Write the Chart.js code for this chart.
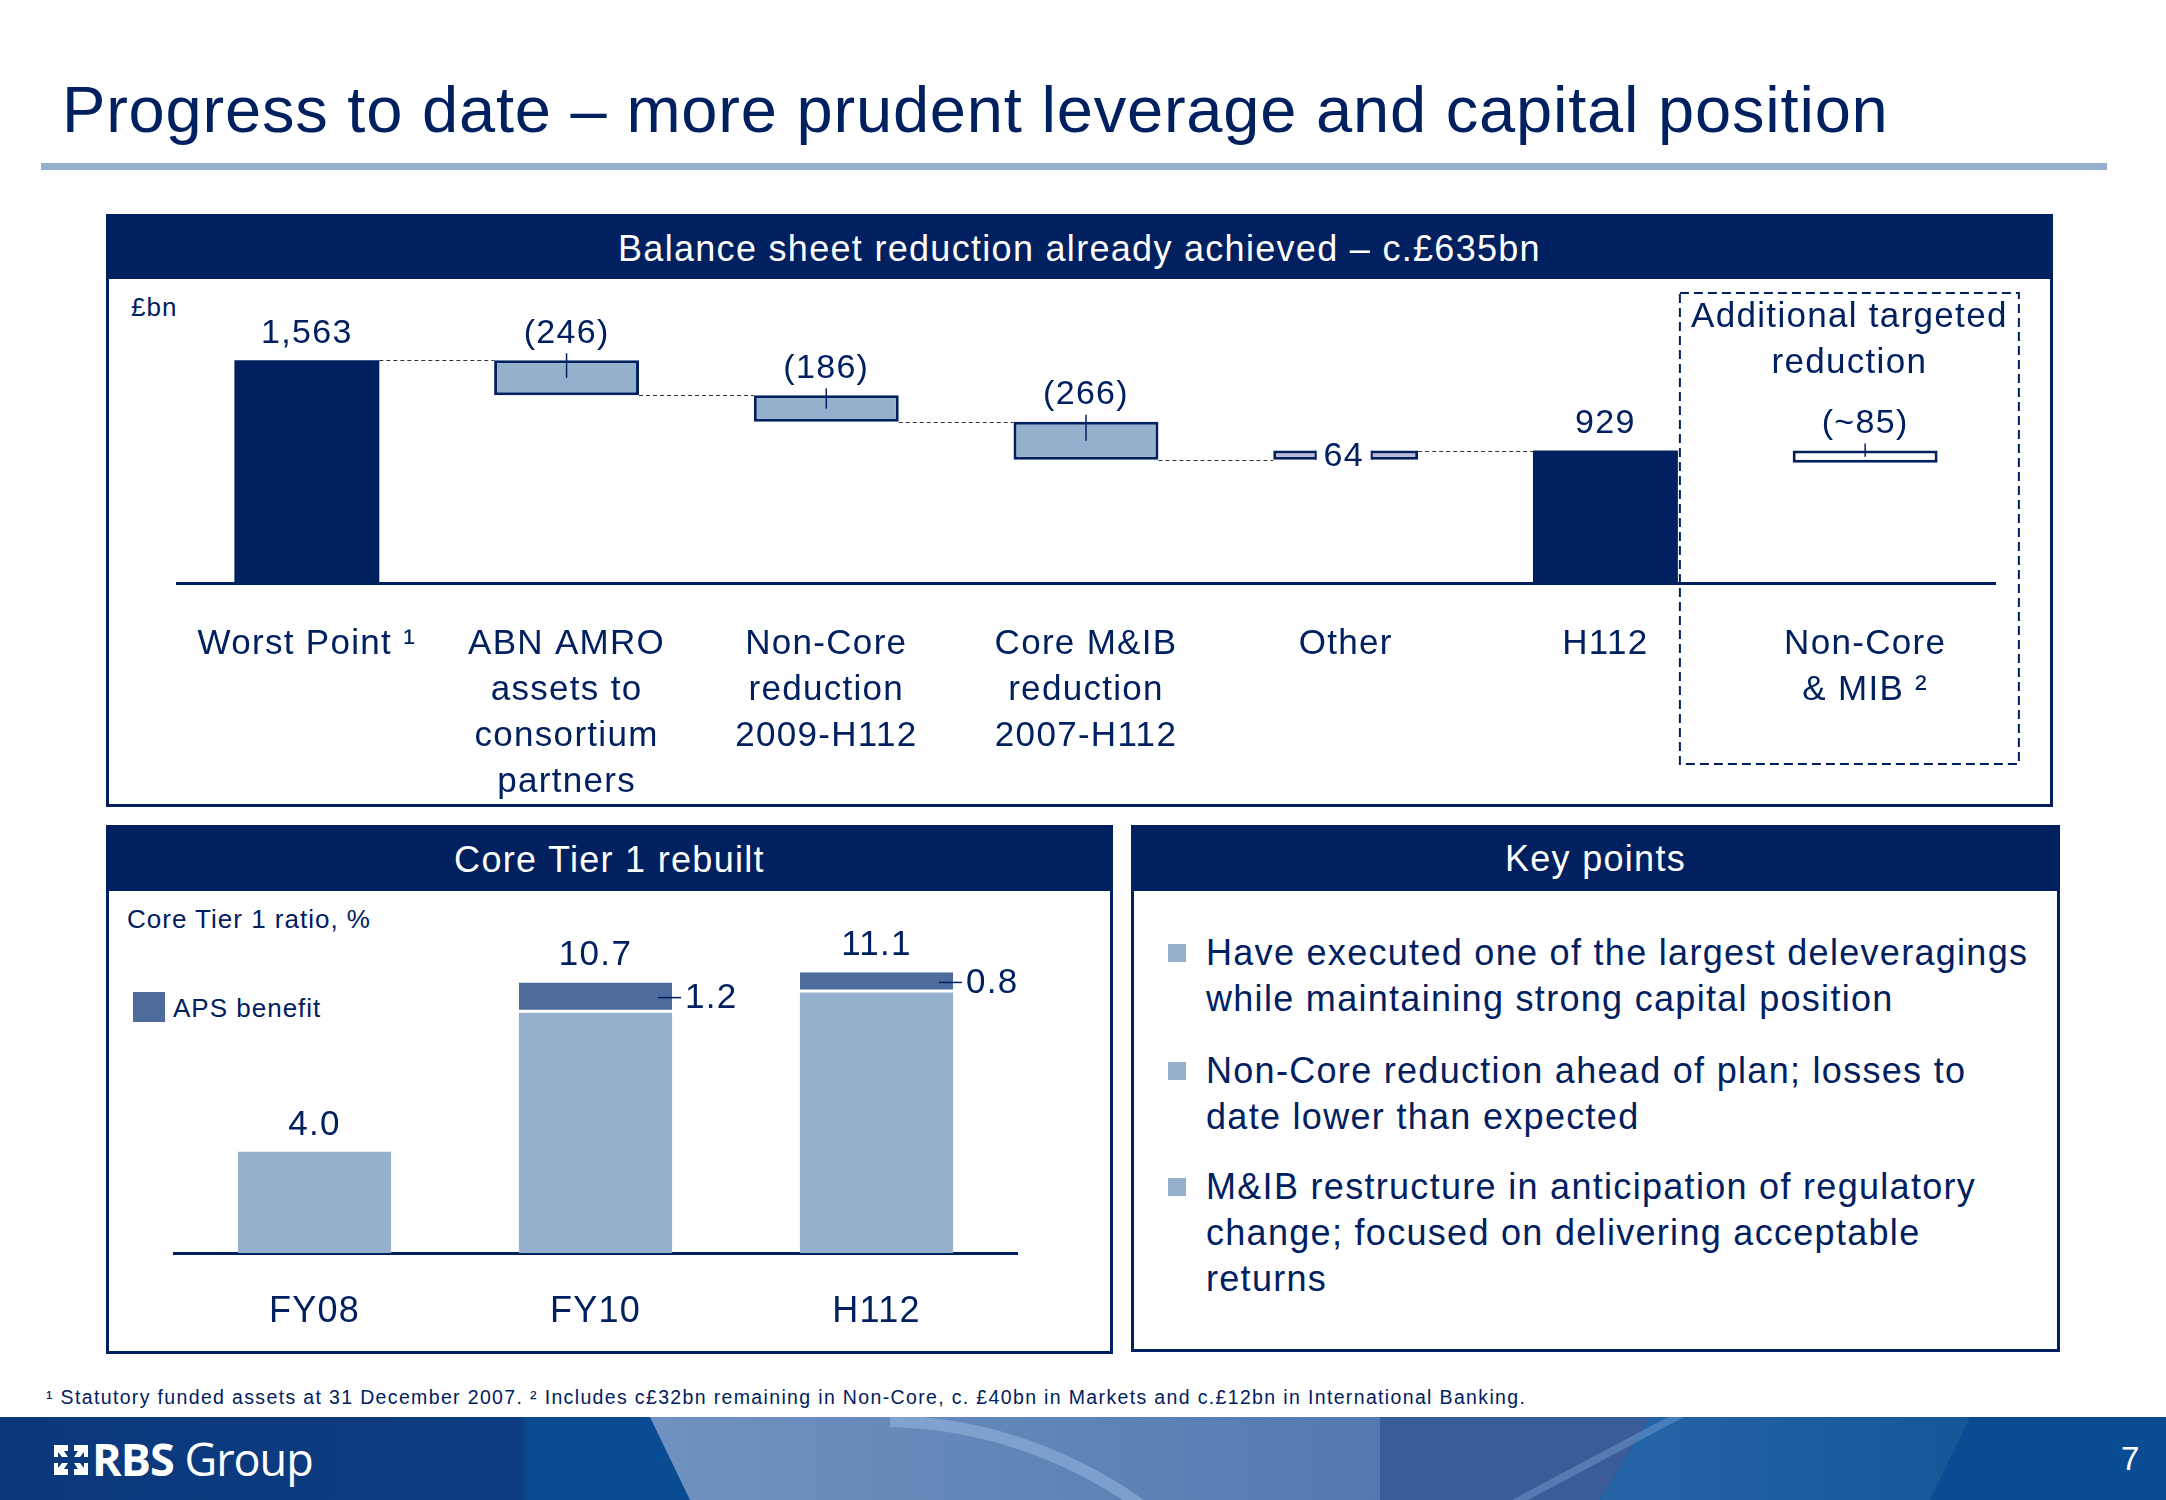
<!DOCTYPE html>
<html>
<head>
<meta charset="utf-8">
<script src="https://cdn.jsdelivr.net/npm/chart.js@4.4.1/dist/chart.umd.min.js"></script>
<style>
  body { margin:0; width:2166px; height:1500px; position:relative; overflow:hidden; background:#fff;
         font-family:"Liberation Sans", Arial, sans-serif; color:#002060; }
  .abs { position:absolute; white-space:nowrap; }
  .panel { position:absolute; box-sizing:border-box; border:3px solid #002060; background:#fff; }
  .hdr { position:absolute; left:0; top:0; right:0; background:#002060; color:#fff; text-align:center;
         font-size:36px; letter-spacing:1.3px; }
  .small { font-size:26px; letter-spacing:1px; line-height:30px; }
  .bullet { position:absolute; left:1168px; width:18px; height:18px; background:#94b0cc; }
  .kp { position:absolute; left:1206px; font-size:36px; letter-spacing:1.3px; line-height:46px; white-space:nowrap; }
  canvas { position:absolute; }
  #footer { position:absolute; left:0; top:1417px; width:2166px; height:83px; overflow:hidden;
    background:linear-gradient(90deg,#0b387b 0,#0c3c81 520px,#0a4c94 530px,#0a4c94 2166px); }
  #footer .fz { position:absolute; left:0; top:0; width:2166px; height:83px; }
</style>
</head>
<body>

<div class="abs" id="title" style="left:62px; top:70px; font-size:65px; line-height:80px; letter-spacing:0.8px;">Progress to date – more prudent leverage and capital position</div>
<div class="abs" style="left:41px; top:163px; width:2066px; height:7px; background:#94b0cc;"></div>

<!-- top panel -->
<div class="panel" style="left:106px; top:214px; width:1947px; height:593px;">
  <div class="hdr" style="height:62px; line-height:64px;">Balance sheet reduction already achieved – c.£635bn</div>
</div>
<div class="abs small" style="left:131px; top:292px;">£bn</div>

<!-- core tier 1 panel -->
<div class="panel" style="left:106px; top:825px; width:1007px; height:529px;">
  <div class="hdr" style="height:63px; line-height:64px;">Core Tier 1 rebuilt</div>
</div>
<div class="abs small" style="left:127px; top:904px;">Core Tier 1 ratio, %</div>
<div class="abs" style="left:133px; top:992px; width:32px; height:30px; background:#4d6b9b;"></div>
<div class="abs small" style="left:173px; top:993px;">APS benefit</div>

<!-- key points panel -->
<div class="panel" style="left:1131px; top:825px; width:929px; height:527px;">
  <div class="hdr" style="height:63px; line-height:62px;">Key points</div>
</div>
<div class="bullet" style="top:944px;"></div>
<div class="kp" style="top:930px;">Have executed one of the largest deleveragings<br>while maintaining strong capital position</div>
<div class="bullet" style="top:1062px;"></div>
<div class="kp" style="top:1048px;">Non-Core reduction ahead of plan; losses to<br>date lower than expected</div>
<div class="bullet" style="top:1178px;"></div>
<div class="kp" style="top:1164px;">M&amp;IB restructure in anticipation of regulatory<br>change; focused on delivering acceptable<br>returns</div>

<div class="abs" style="left:46px; top:1385px; font-size:19.5px; line-height:24px; letter-spacing:1.35px;">¹ Statutory funded assets at 31 December 2007. ² Includes c£32bn remaining in Non-Core, c. £40bn in Markets and c.£12bn in International Banking.</div>

<canvas id="wf" width="1941" height="524" style="left:109px; top:280px;"></canvas>
<canvas id="ct1" width="1001" height="459" style="left:109px; top:892px;"></canvas>

<!-- footer -->
<div id="footer">
  <div class="fz" style="background:linear-gradient(90deg,#7192c0 650px,#5479b0 1380px); clip-path:polygon(650px 0,1380px 0,1380px 83px,690px 83px);"></div>
  <div class="fz" style="background:#3a5c98; clip-path:polygon(1380px 0,1650px 0,1600px 83px,1380px 83px);"></div>
  <div class="fz" style="background:linear-gradient(90deg,#2463a5 1650px,#155799 1960px); clip-path:polygon(1650px 0,1970px 0,1930px 83px,1600px 83px);"></div>
  <div class="fz" style="clip-path:polygon(890px 0,1380px 0,1380px 83px,890px 83px);">
    <div style="position:absolute; left:428px; top:-2px; width:880px; height:880px; border-radius:50%; border:12px solid rgba(160,192,232,0.45);"></div>
  </div>
  <div class="fz" style="background:rgba(140,178,225,0.35); clip-path:polygon(1668px 0,1684px 0,1528px 83px,1512px 83px);"></div>
  <svg style="position:absolute; left:52px; top:26px;" width="38" height="34" viewBox="0 0 38 34">
    <g fill="#fff">
      <polygon points="2,2 16,2 16,8 12,8 16,14 10,14 6,9 6,14 2,14"/>
      <polygon points="36,2 22,2 22,8 26,8 22,14 28,14 32,9 32,14 36,14"/>
      <polygon points="2,32 16,32 16,26 12,26 16,20 10,20 6,25 6,20 2,20"/>
      <polygon points="36,32 22,32 22,26 26,26 22,20 28,20 32,25 32,20 36,20"/>
    </g>
  </svg>
  <div class="abs" style="left:92px; top:16px; font-family:'Open Sans',sans-serif; font-size:45px; line-height:52px; color:#fff; letter-spacing:-1px;"><b>RBS</b> Group</div>
  <div class="abs" style="left:2121px; top:22px; font-size:33px; line-height:40px; color:#fff;">7</div>
</div>

<script>
const NAVY = '#002060';
const LIGHT = '#94b0cc';
const APS_C = '#4d6b9b';
const OTHER_C = '#b9bcd4';
const FONT = '"Liberation Sans", Arial, sans-serif';

// ---- Balance sheet waterfall data (£bn) ----
const WF_LABELS = [
  ['Worst Point ¹'],
  ['ABN AMRO', 'assets to', 'consortium', 'partners'],
  ['Non-Core', 'reduction', '2009-H112'],
  ['Core M&IB', 'reduction', '2007-H112'],
  ['Other'],
  ['H112'],
  ['Non-Core', '& MIB ²']
];
const WF_START = 1563;
const WF_STEPS = [-246, -186, -266, 64];
const WF_END = 929;
const WF_TARGET = -85;
const WF_TEXT = ['1,563', '(246)', '(186)', '(266)', '64', '929', '(~85)'];

// ---- Core Tier 1 data (%) ----
const CT1_LABELS = ['FY08', 'FY10', 'H112'];
const CT1_BASE = [4.0, 9.5, 10.3];
const CT1_APS = [0, 1.2, 0.8];

// build floating bars for waterfall
const wfBars = [[0, WF_START]];
const wfRun = [WF_START];
let run = WF_START;
WF_STEPS.forEach(s => {
  const next = run + s;
  wfBars.push([Math.min(run, next), Math.max(run, next)]);
  run = next;
  wfRun.push(run);
});
wfBars.push([0, WF_END]);
wfBars.push([WF_END + WF_TARGET, WF_END]);

const wfKind = ['total'].concat(WF_STEPS.map(s => s < 0 ? 'down' : 'up'), ['total', 'target']);
const wfFill = wfKind.map(k => k === 'total' ? NAVY : k === 'down' ? LIGHT : k === 'up' ? OTHER_C : '#fff');
const wfBorder = wfKind.map(k => k === 'total' ? 0 : 3);

const wfDecor = {
  id: 'wfDecor',
  beforeDraw(chart) { chart.ctx.letterSpacing = '1.3px'; },
  afterDatasetsDraw(chart) {
    const ctx = chart.ctx, bars = chart.getDatasetMeta(0).data, ys = chart.scales.y;
    ctx.save();
    // dashed connectors
    ctx.strokeStyle = '#333'; ctx.lineWidth = 1; ctx.setLineDash([4, 3]);
    for (let i = 0; i < wfRun.length; i++) {
      const a = bars[i], b = bars[i + 1];
      const lv = Math.round(ys.getPixelForValue(wfRun[i])) + 0.5;
      ctx.beginPath(); ctx.moveTo(a.x + a.width / 2, lv); ctx.lineTo(b.x - b.width / 2, lv); ctx.stroke();
    }
    ctx.setLineDash([]);
    // labels
    ctx.font = '34px ' + FONT; ctx.fillStyle = NAVY; ctx.textAlign = 'center'; ctx.textBaseline = 'middle';
    bars.forEach((b, i) => {
      const top = Math.min(b.y, b.base), bot = Math.max(b.y, b.base), mid = (top + bot) / 2;
      if (wfKind[i] === 'up') {
        ctx.fillStyle = '#fff'; ctx.fillRect(b.x - 30, top - 6, 56, bot - top + 12);
        ctx.fillStyle = NAVY; ctx.fillRect(b.x - 31, top, 2, bot - top); ctx.fillRect(b.x + 25, top, 2, bot - top);
        ctx.fillText(WF_TEXT[i], b.x - 2, mid + 1);
        return;
      }
      ctx.fillText(WF_TEXT[i], b.x, top - 27);
      if (wfKind[i] === 'down' || wfKind[i] === 'target') {
        ctx.strokeStyle = NAVY; ctx.lineWidth = 1.5;
        ctx.beginPath(); ctx.moveTo(b.x, top - 7); ctx.lineTo(b.x, mid); ctx.stroke();
      }
    });
    // additional targeted reduction box
    const h = bars[5];
    const left = h.x + h.width / 2 + 2, right = left + 339;
    ctx.strokeStyle = NAVY; ctx.lineWidth = 2; ctx.setLineDash([9, 5]);
    ctx.strokeRect(left, 13, right - left, 471);
    ctx.setLineDash([]);
    ctx.font = '35px ' + FONT;
    ctx.fillText('Additional targeted', (left + right) / 2, 37);
    ctx.fillText('reduction', (left + right) / 2, 83);
    ctx.restore();
  }
};

new Chart(document.getElementById('wf'), {
  type: 'bar',
  data: {
    labels: WF_LABELS,
    datasets: [{ data: wfBars, backgroundColor: wfFill, borderColor: NAVY, borderWidth: wfBorder,
                 borderSkipped: false, categoryPercentage: 1, barPercentage: 0.558 }]
  },
  options: {
    responsive: false, animation: false,
    layout: { padding: { left: 68, right: 55, top: 18, bottom: 0 } },
    plugins: { legend: { display: false }, tooltip: { enabled: false } },
    scales: {
      x: {
        grid: { display: false, drawTicks: false },
        border: { color: NAVY, width: 3 },
        ticks: { color: NAVY, font: { family: FONT, size: 35, lineHeight: 46 / 35 }, padding: 38, maxRotation: 0, autoSkip: false },
        afterFit: s => { s.height = 221; }
      },
      y: { display: false, min: 0, max: 2000 }
    }
  },
  plugins: [wfDecor]
});

// ---- Core Tier 1 chart ----
const ct1Decor = {
  id: 'ct1Decor',
  beforeDraw(chart) { chart.ctx.letterSpacing = '1.3px'; },
  afterDatasetsDraw(chart) {
    const ctx = chart.ctx, ys = chart.scales.y;
    const base = chart.getDatasetMeta(0).data, aps = chart.getDatasetMeta(1).data;
    ctx.save();
    ctx.fillStyle = NAVY; ctx.textBaseline = 'middle';
    ctx.font = '35px ' + FONT;
    base.forEach((b, i) => {
      const total = CT1_BASE[i] + CT1_APS[i];
      ctx.textAlign = 'center';
      ctx.fillText(total.toFixed(1), b.x, ys.getPixelForValue(total) - 27);
      if (CT1_APS[i] > 0) {
        const a = aps[i];
        const right = a.x + a.width / 2;
        const mid = (ys.getPixelForValue(CT1_BASE[i]) + ys.getPixelForValue(total)) / 2;
        ctx.strokeStyle = NAVY; ctx.lineWidth = 1.5;
        ctx.beginPath(); ctx.moveTo(right - 14, mid); ctx.lineTo(right + 9, mid); ctx.stroke();
        ctx.textAlign = 'left';
        ctx.fillText(CT1_APS[i].toFixed(1), right + 13, mid + 1);
      }
    });
    ctx.restore();
  }
};

new Chart(document.getElementById('ct1'), {
  type: 'bar',
  data: {
    labels: CT1_LABELS,
    datasets: [
      { label: 'Core Tier 1', data: CT1_BASE, backgroundColor: LIGHT, borderWidth: 0,
        categoryPercentage: 1, barPercentage: 0.545 },
      { label: 'APS benefit', data: CT1_APS, backgroundColor: APS_C, borderColor: '#fff',
        borderWidth: { top: 0, left: 0, right: 0, bottom: 3 }, borderSkipped: false,
        categoryPercentage: 1, barPercentage: 0.545 }
    ]
  },
  options: {
    responsive: false, animation: false,
    layout: { padding: { left: 65, right: 93, top: 7, bottom: 0 } },
    plugins: { legend: { display: false }, tooltip: { enabled: false } },
    scales: {
      x: {
        stacked: true,
        grid: { display: false, drawTicks: false },
        border: { color: NAVY, width: 3 },
        ticks: { color: NAVY, font: { family: FONT, size: 36, lineHeight: 40 / 36 }, padding: 39, maxRotation: 0 },
        afterFit: s => { s.height = 98; }
      },
      y: { stacked: true, display: false, min: 0, max: 14 }
    }
  },
  plugins: [ct1Decor]
});
</script>
</body>
</html>
